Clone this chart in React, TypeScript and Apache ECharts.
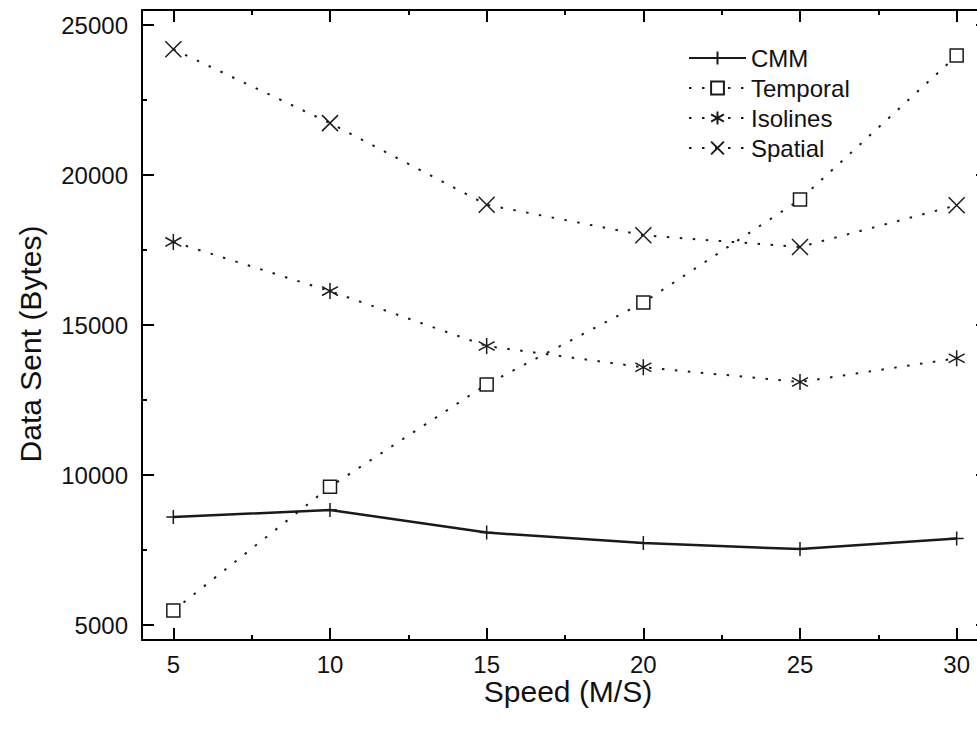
import React, { useEffect, useRef } from "react";
import * as echarts from "echarts";

const speeds = [5, 10, 15, 20, 25, 30];
const cmm = [8600, 8830, 8080, 7730, 7530, 7880];
const temporal = [5480, 9610, 13020, 15750, 19180, 23980];
const isolines = [17770, 16130, 14300, 13590, 13100, 13890];
const spatial = [24190, 21730, 19010, 17990, 17600, 18990];

const xMajor = [5, 10, 15, 20, 25, 30];
const xMinor = [7.5, 12.5, 17.5, 22.5, 27.5];
const yMajor = [5000, 10000, 15000, 20000, 25000];
const yMinor = [7500, 12500, 17500, 22500];

const seriesNames = ["CMM", "Temporal", "Isolines", "Spatial"];

const FONT = "Liberation Sans, Arial, sans-serif";
const INK = "#1a1a1a";

const PLUS = "path://M0,-1L0,1M-1,0L1,0";
const ASTER = "path://M0,-1L0,1M-0.9,-0.55L0.9,0.55M-0.9,0.55L0.9,-0.55";
const CROSS = "path://M-1,-1L1,1M-1,1L1,-1";

export default function App() {
  const ref = useRef<HTMLDivElement>(null);
  useEffect(() => {
    if (!ref.current) return;
    const chart = echarts.init(ref.current, undefined, { renderer: "svg" });
    const pairs = (ys: number[]) => speeds.map((x, i) => [x, ys[i]]);
    const dotted = { color: INK, width: 2, type: [2.5, 10.5] as number[] };
    const mk = (name: string, ys: number[], symbol: string, size: number, line: any) => ({
      name,
      type: "line",
      data: pairs(ys),
      symbol,
      symbolSize: size,
      showAllSymbol: true,
      lineStyle: line,
      itemStyle: { color: "#fff", borderColor: INK, borderWidth: 1.5 },
      emphasis: { disabled: true },
      z: 3,
    });
    const axisLine = { show: true, onZero: false, lineStyle: { color: "#000", width: 2 } };
    const tickMaj = (vals: number[]) => ({
      show: true,
      inside: true,
      length: 12,
      customValues: vals,
      lineStyle: { color: "#000", width: 2 },
    });
    const tickMin = (vals: number[]) => ({
      show: true,
      inside: true,
      length: 5,
      customValues: vals,
      lineStyle: { color: "#000", width: 2 },
    });
    const noLabel = { show: false };
    const fmt = (v: number) => String(v);
    const lbl = (vals: number[], margin: number) => ({
      customValues: vals,
      formatter: fmt,
      fontSize: 24,
      lineHeight: 22,
      fontWeight: "normal",
      color: "#111",
      fontFamily: FONT,
      margin,
    });
    const baseX = { type: "value", min: 4, max: 31, splitLine: { show: false } };
    const baseY = { type: "value", min: 4500, max: 25500, splitLine: { show: false } };
    chart.setOption({
      animation: false,
      backgroundColor: "#fff",
      textStyle: { fontFamily: FONT },
      grid: { left: 142, top: 10, width: 846, height: 630, outerBoundsMode: "none", containLabel: false },
      xAxis: [
        { ...baseX, position: "bottom", axisLine, axisTick: tickMaj(xMajor), axisLabel: lbl(xMajor, 13) },
        { ...baseX, position: "bottom", axisLine: { show: false }, axisTick: tickMin(xMinor), axisLabel: noLabel },
        { ...baseX, position: "top", axisLine, axisTick: tickMaj(xMajor), axisLabel: noLabel },
        { ...baseX, position: "top", axisLine: { show: false }, axisTick: tickMin(xMinor), axisLabel: noLabel },
      ],
      yAxis: [
        { ...baseY, position: "left", axisLine, axisTick: tickMaj(yMajor), axisLabel: lbl(yMajor, 14) },
        { ...baseY, position: "left", axisLine: { show: false }, axisTick: tickMin(yMinor), axisLabel: noLabel },
        { ...baseY, position: "right", axisLine, axisTick: tickMaj(yMajor), axisLabel: noLabel },
      ],
      legend: {
        orient: "vertical",
        left: 683,
        top: 41,
        itemWidth: 57,
        itemHeight: 16,
        itemGap: 6,
        data: seriesNames,
        textStyle: { fontSize: 24, color: "#111", fontFamily: FONT },
        selectedMode: false,
      },
      graphic: [
        {
          type: "text",
          x: 568,
          y: 691,
          style: {
            text: "Speed (M/S)",
            font: `30px ${FONT}`,
            lineHeight: 22,
            fill: "#111",
            textAlign: "center",
            textVerticalAlign: "middle",
          },
        },
        {
          type: "text",
          x: 30,
          y: 344,
          rotation: Math.PI / 2,
          style: {
            text: "Data Sent (Bytes)",
            font: `30px ${FONT}`,
            fill: "#111",
            textAlign: "center",
            textVerticalAlign: "middle",
          },
        },
      ],
      series: [
        mk("CMM", cmm, PLUS, 14, { color: INK, width: 2.5, type: "solid" }),
        mk("Temporal", temporal, "rect", 13, dotted),
        mk("Isolines", isolines, ASTER, 16, dotted),
        mk("Spatial", spatial, CROSS, 16, dotted),
      ],
    });
    return () => chart.dispose();
  }, []);
  return (
    <div
      ref={ref}
      style={{ position: "absolute", left: 0, top: 0, width: 977, height: 730, background: "#fff" }}
    />
  );
}
